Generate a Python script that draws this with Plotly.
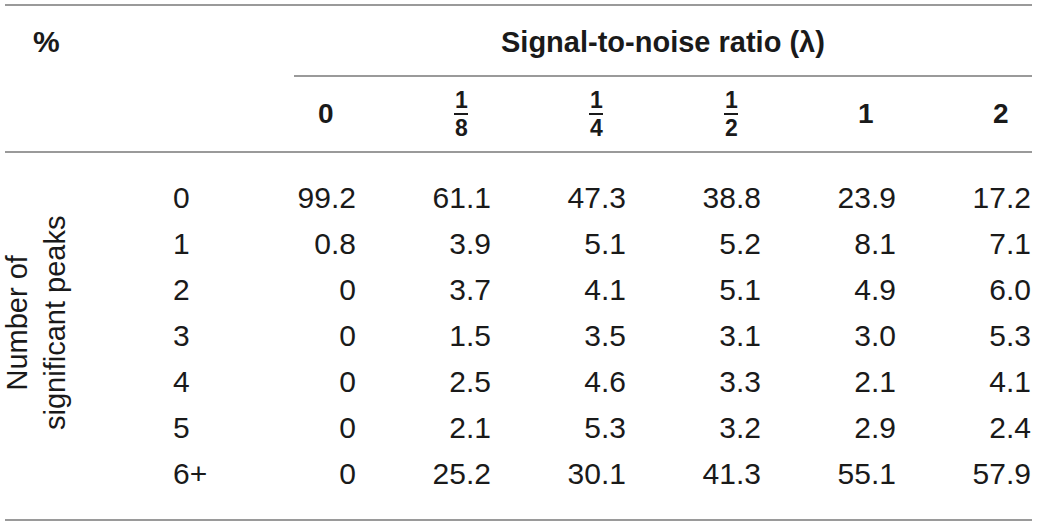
import plotly.graph_objects as go

# ---- data ----
col_labels = ["0", "1/8", "1/4", "1/2", "1", "2"]
row_labels = ["0", "1", "2", "3", "4", "5", "6+"]
values = [
    ["99.2", "61.1", "47.3", "38.8", "23.9", "17.2"],
    ["0.8", "3.9", "5.1", "5.2", "8.1", "7.1"],
    ["0", "3.7", "4.1", "5.1", "4.9", "6.0"],
    ["0", "1.5", "3.5", "3.1", "3.0", "5.3"],
    ["0", "2.5", "4.6", "3.3", "2.1", "4.1"],
    ["0", "2.1", "5.3", "3.2", "2.9", "2.4"],
    ["0", "25.2", "30.1", "41.3", "55.1", "57.9"],
]
corner_label = "%"
group_label = "Signal-to-noise ratio (λ)"
row_title = "Number of<br>significant peaks"

# ---- layout geometry (page-pixel coordinates) ----
W, H = 1037, 532
col_right0, col_step = 356, 135
row_y0, row_step = 200, 46
header_y = 113
row_label_x = 173

REG = "Liberation Sans"
TXT = "#1a1a1a"
LINE = "#9a9a9a"

fig = go.Figure()

# data cells (right-aligned)
xs, ys, ts = [], [], []
for r, row in enumerate(values):
    for c, v in enumerate(row):
        xs.append(col_right0 + c * col_step)
        ys.append(row_y0 + r * row_step)
        ts.append(v)
fig.add_trace(go.Scatter(
    x=xs, y=ys, text=ts, mode="text", textposition="middle left",
    textfont=dict(family=REG, size=30, color=TXT), hoverinfo="skip",
    showlegend=False, cliponaxis=False,
))

# row labels (left-aligned)
fig.add_trace(go.Scatter(
    x=[row_label_x] * len(row_labels),
    y=[row_y0 + r * row_step for r in range(len(row_labels))],
    text=row_labels, mode="text", textposition="middle right",
    textfont=dict(family=REG, size=30, color=TXT), hoverinfo="skip",
    showlegend=False, cliponaxis=False,
))

annotations = []
shapes = []

# column headers
for c, lab in enumerate(col_labels):
    cx = col_right0 + c * col_step - 30
    if "/" in lab:
        num, den = lab.split("/")
        annotations.append(dict(x=cx, y=header_y - 13, text=f"<b>{num}</b>", showarrow=False,
                                font=dict(family=REG, size=23, color=TXT), xanchor="center", yanchor="middle"))
        annotations.append(dict(x=cx, y=header_y + 15, text=f"<b>{den}</b>", showarrow=False,
                                font=dict(family=REG, size=23, color=TXT), xanchor="center", yanchor="middle"))
        shapes.append(dict(type="line", x0=cx - 7, x1=cx + 7, y0=header_y + 1, y1=header_y + 1,
                           line=dict(color=TXT, width=2)))
    else:
        annotations.append(dict(x=cx, y=header_y, text=f"<b>{lab}</b>", showarrow=False,
                                font=dict(family=REG, size=28, color=TXT), xanchor="center", yanchor="middle"))

annotations.append(dict(x=46, y=41, text=f"<b>{corner_label}</b>", showarrow=False,
                        font=dict(family=REG, size=30, color=TXT), xanchor="center", yanchor="middle"))
annotations.append(dict(x=663, y=42, text=f"<b>{group_label}</b>", showarrow=False,
                        font=dict(family=REG, size=29, color=TXT), xanchor="center", yanchor="middle"))
annotations.append(dict(x=36, y=323, text=row_title, showarrow=False, textangle=-90,
                        font=dict(family=REG, size=29, color=TXT), xanchor="center", yanchor="middle"))

# rules
for (x0, x1, y) in [(5, 1032, 5), (294, 1032, 76), (5, 1032, 152), (5, 1032, 520)]:
    shapes.append(dict(type="line", x0=x0, x1=x1, y0=y, y1=y, line=dict(color=LINE, width=2)))

fig.update_layout(
    width=W, height=H, margin=dict(l=0, r=0, t=0, b=0),
    paper_bgcolor="white", plot_bgcolor="white",
    xaxis=dict(range=[0, W], visible=False, fixedrange=True),
    yaxis=dict(range=[H, 0], visible=False, fixedrange=True),
    annotations=annotations, shapes=shapes,
)

# remove the default 8px page margin so the figure fills the window exactly
fig.write_html("out.html", config={"displayModeBar": False},
               post_script="document.body.style.margin='0';")
